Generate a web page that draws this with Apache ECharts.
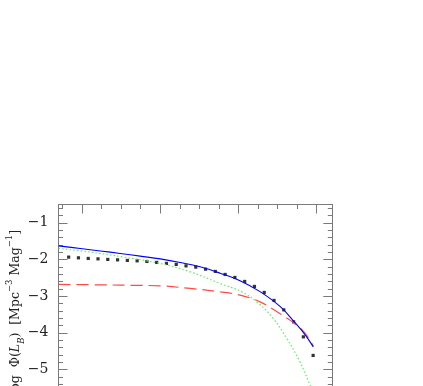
<!DOCTYPE html>
<html>
<head>
<meta charset="utf-8">
<script src="https://cdn.jsdelivr.net/npm/echarts@6/dist/echarts.min.js"></script>
<style>
  html, body { margin: 0; padding: 0; background: #fff; }
  #chart { width: 423px; height: 386px; }
</style>
</head>
<body>
<div id="chart"></div>
<script>
// axis ranges and ticks
var xMin = 7.7, xMax = 11.2;
var yMin = -6, yMax = -0.5;
var xMajor = [8, 9, 10, 11];
var xMinor = [7.75, 8.25, 8.5, 8.75, 9.25, 9.5, 9.75, 10.25, 10.5, 10.75];
var yMajor = [-6, -5, -4, -3, -2, -1];
var yMinor = [-5.8, -5.6, -5.4, -5.2, -4.8, -4.6, -4.4, -4.2, -3.8, -3.6, -3.4, -3.2,
              -2.8, -2.6, -2.4, -2.2, -1.8, -1.6, -1.4, -1.2, -0.8, -0.6];

// observed points
var obsX = [7.83, 7.955, 8.08, 8.205, 8.33, 8.455, 8.58, 8.705, 8.83, 8.955, 9.08, 9.205, 9.33,
            9.455, 9.58, 9.705, 9.83, 9.955, 10.08, 10.205, 10.33, 10.455, 10.58, 10.705, 10.83, 10.955];
var obsY = [-1.935, -1.954, -1.971, -1.982, -1.998, -2.009, -2.025, -2.036, -2.053, -2.080, -2.107,
            -2.134, -2.173, -2.208, -2.263, -2.325, -2.407, -2.489, -2.598, -2.734, -2.898, -3.116,
            -3.373, -3.700, -4.109, -4.616];

// total fit (blue)
var totX = [7.701, 7.978, 8.234, 8.489, 8.744, 9.0, 9.255, 9.51, 9.766, 10.021, 10.276, 10.532, 10.723, 10.851, 10.957];
var totY = [-1.627, -1.698, -1.766, -1.834, -1.908, -1.982, -2.080, -2.200, -2.372, -2.576, -2.876, -3.280, -3.722, -4.049, -4.382];

// component 1 (red dashed)
var redX = [7.701, 8.234, 8.744, 9.0, 9.383, 9.766, 10.021, 10.276, 10.493, 10.701, 10.851, 10.957];
var redY = [-2.680, -2.691, -2.707, -2.718, -2.789, -2.882, -2.972, -3.154, -3.427, -3.716, -4.008, -4.362];

// component 2 (green dotted)
var grnX = [7.701, 8.084, 8.511, 9.0, 9.383, 9.766, 10.043, 10.234, 10.446, 10.617, 10.787, 10.915, 10.991];
var grnY = [-1.698, -1.791, -1.927, -2.107, -2.336, -2.653, -2.882, -3.154, -3.607, -4.152, -4.791, -5.426, -5.9];

function zip(xs, ys) {
    return xs.map(function (x, i) { return [x, ys[i]]; });
}

var serif = 'DejaVu Serif';
var frame = '#7a7a7a';

function xAx(pos, ticks, len) {
    return {
        type: 'value', position: pos, min: xMin, max: xMax,
        axisLine: { show: true, lineStyle: { color: frame, width: 1 } },
        axisTick: { show: true, inside: true, length: len, customValues: ticks, lineStyle: { color: frame } },
        axisLabel: { show: false },
        splitLine: { show: false }
    };
}

function yAx(pos, ticks, len, labels) {
    return {
        type: 'value', position: pos, min: yMin, max: yMax,
        axisLine: { show: true, lineStyle: { color: frame, width: 1 } },
        axisTick: { show: true, inside: true, length: len, customValues: ticks, lineStyle: { color: frame } },
        axisLabel: labels ? {
            show: true, customValues: yMajor, margin: 10,
            fontFamily: serif, fontSize: 14, color: '#222',
            formatter: function (v) { return '\u2212' + Math.abs(v); }
        } : { show: false },
        splitLine: { show: false }
    };
}

var yMain = yAx('left', yMajor, 9, true);
yMain.name = 'log  \u03a6({it|L}{sub|B})  [Mpc{sup|\u22123} Mag{sup|\u22121}]';
yMain.nameLocation = 'middle';
yMain.nameGap = 32;
yMain.nameMoveOverlap = false;
yMain.nameTextStyle = {
    fontFamily: serif, fontSize: 12.5, color: '#222', lineHeight: 21,
    padding: [0, 14, 0, 0],
    rich: {
        it: { fontFamily: serif, fontSize: 12.5, fontStyle: 'italic', color: '#222', lineHeight: 21 },
        sub: { fontFamily: serif, fontSize: 8.5, fontStyle: 'italic', color: '#222', lineHeight: 10, verticalAlign: 'bottom' },
        sup: { fontFamily: serif, fontSize: 8.5, color: '#222', lineHeight: 10, verticalAlign: 'top' }
    }
};

var chart = echarts.init(document.getElementById('chart'));
chart.setOption({
    animation: false,
    backgroundColor: '#fff',
    grid: {
        left: 58.5, right: 90.7, top: 204.5, height: 201.7,
        containLabel: false, outerBoundsMode: 'none'
    },
    xAxis: [
        xAx('bottom', xMajor, 9),
        xAx('bottom', xMinor, 4.5),
        xAx('top', xMajor, 9),
        xAx('top', xMinor, 4.5)
    ],
    yAxis: [
        yMain,
        yAx('left', yMinor, 4.5, false),
        yAx('right', yMajor, 9, false),
        yAx('right', yMinor, 4.5, false)
    ],
    series: [
        {
            type: 'line', data: zip(grnX, grnY), smooth: 0.4, symbol: 'none',
            lineStyle: { color: '#5ef05e', width: 1.2, type: [1.5, 2.2] }
        },
        {
            type: 'line', data: zip(redX, redY), smooth: 0.4, symbol: 'none',
            lineStyle: { color: '#ff4a4a', width: 1.2, type: [12, 6] }
        },
        {
            type: 'line', data: zip(totX, totY), smooth: 0.4, symbol: 'none',
            lineStyle: { color: '#0000ff', width: 1.1 }
        },
        {
            type: 'scatter', data: zip(obsX, obsY), symbol: 'rect', symbolSize: 3.2,
            itemStyle: { color: '#000' }
        }
    ]
});
</script>
</body>
</html>
